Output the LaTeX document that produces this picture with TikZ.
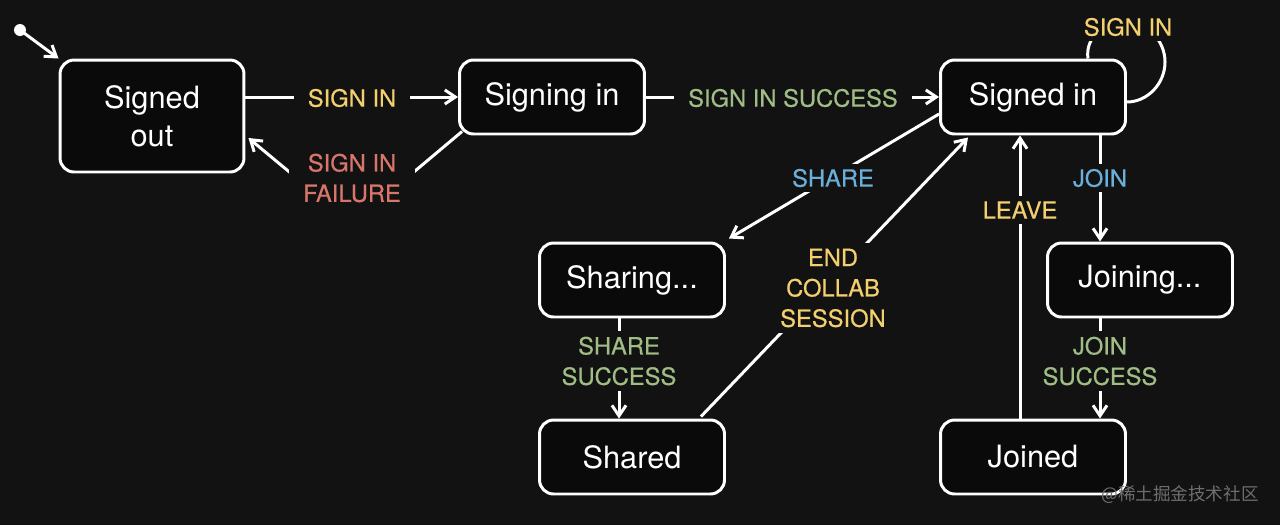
\documentclass[tikz,border=0pt]{standalone}
\usepackage{fontspec}
\setmainfont{TeX Gyre Heros}
\newfontfamily\labfont{TeX Gyre Heros}[FakeBold=0.5]
\newfontfamily\cjkfont{Noto Sans CJK SC}
\usetikzlibrary{arrows.meta,calc}
\definecolor{bg}{HTML}{121212}
\definecolor{nodebg}{HTML}{0A0A0A}
\definecolor{yel}{HTML}{F3CF6E}
\definecolor{redl}{HTML}{D9766C}
\definecolor{grn}{HTML}{9FBD84}
\definecolor{blu}{HTML}{6AAED9}
\definecolor{wmark}{HTML}{6E6E6E}
\begin{document}
\begin{tikzpicture}[x=0.02cm,y=-0.02cm,
  state/.style={draw=white, line width=1.7pt, rounded corners=8pt, fill=nodebg, text=white,
    font=\fontsize{17.5}{21.5}\selectfont, align=center, inner sep=0pt,
    minimum width=3.7cm, minimum height=1.48cm},
  lab/.style={fill=bg, inner xsep=8pt, inner ysep=3pt, align=center,
    font=\labfont\fontsize{13.5}{17.3}\selectfont},
  conn/.style={draw=white, line width=1.7pt, -{Straight Barb[length=6pt,width=8pt]}},
  plain/.style={draw=white, line width=1.7pt}]
\fill[bg] (0,0) rectangle (1280,525);
\useasboundingbox (0,0) rectangle (1280,525);

% states
\node[state, minimum height=2.24cm, minimum width=3.68cm] (so) at (152,116) {Signed\\out};
\node[state] (sgi) at (552,97) {Signing in};
\node[state] (sin) at (1033,97) {Signed in};
\node[state] (sh) at (632,280) {Sharing...};
\node[state] (shd) at (632,457) {Shared};
\node[state] (jn) at (1140,280) {Joining...};
\node[state] (jd) at (1033,457) {Joined};

% initial
\node[circle, fill=white, inner sep=0pt, minimum size=0.24cm] (init) at (20,30) {};
\draw[conn] (init.center) -- (so.north west);

% connectors
\draw[conn] (so.east |- sgi.west) -- (sgi.west);
\coordinate (fv) at (352,224);
\draw[conn] ($(sgi.south west)+(4,-4)$) -- (fv) -- ($(so.east)+(3,22)$);
\draw[conn] (sgi.east) -- (sin.west);
\coordinate (lpa) at ($(sin.north east)+(-39,0)$);
\coordinate (lpb) at ($(sin.east)+(0,5)$);
\draw[plain] (lpa) .. controls (1085,38) and (1103,22) .. (1125,22)
  .. controls (1147,22) and (1165,40) .. (1165,62)
  .. controls (1165,84) and (1147,102) .. (lpb);
\draw[conn] ($(sin.west)+(0,17)$) -- ($(sh.north east)+(3,-3)$);
\draw[conn] ($(shd.north east)+(-25,-2)$) -- ($(sin.south west)+(29,2)$);
\draw[conn] (jd.north -| 1020,0) -- (sin.south -| 1020,0);
\draw[conn] (sin.south -| 1100,0) -- (jn.north -| 1100,0);
\draw[conn] (jn.south -| 1100,0) -- (jd.north -| 1100,0);
\draw[conn] (sh.south -| 619,0) -- (shd.north -| 619,0);

% labels
\node[lab, text=yel] (l1) at (352,98) {SIGN IN};
\node[lab, text=redl, inner ysep=14pt] (l2) at (352,178) {SIGN IN\\FAILURE};
\node[lab, text=grn] (l3) at (793,98) {SIGN IN SUCCESS};
\node[lab, text=yel, inner xsep=3pt] (l4) at (1128,27) {SIGN IN};
\node[lab, text=blu] (l5) at (833,178) {SHARE};
\node[lab, text=yel] (l6) at (833,288) {END\\COLLAB\\SESSION};
\node[lab, text=yel] (l7) at (1020,210) {LEAVE};
\node[lab, text=blu] (l8) at (1100,178) {JOIN};
\node[lab, text=grn] (l9) at (1100,361) {JOIN\\SUCCESS};
\node[lab, text=grn] (l10) at (619,361) {SHARE\\SUCCESS};

\node[text=wmark, font=\cjkfont\fontsize{10}{12}\selectfont] (wm) at (1180,495) {@稀土掘金技术社区};
\end{tikzpicture}
\end{document}
